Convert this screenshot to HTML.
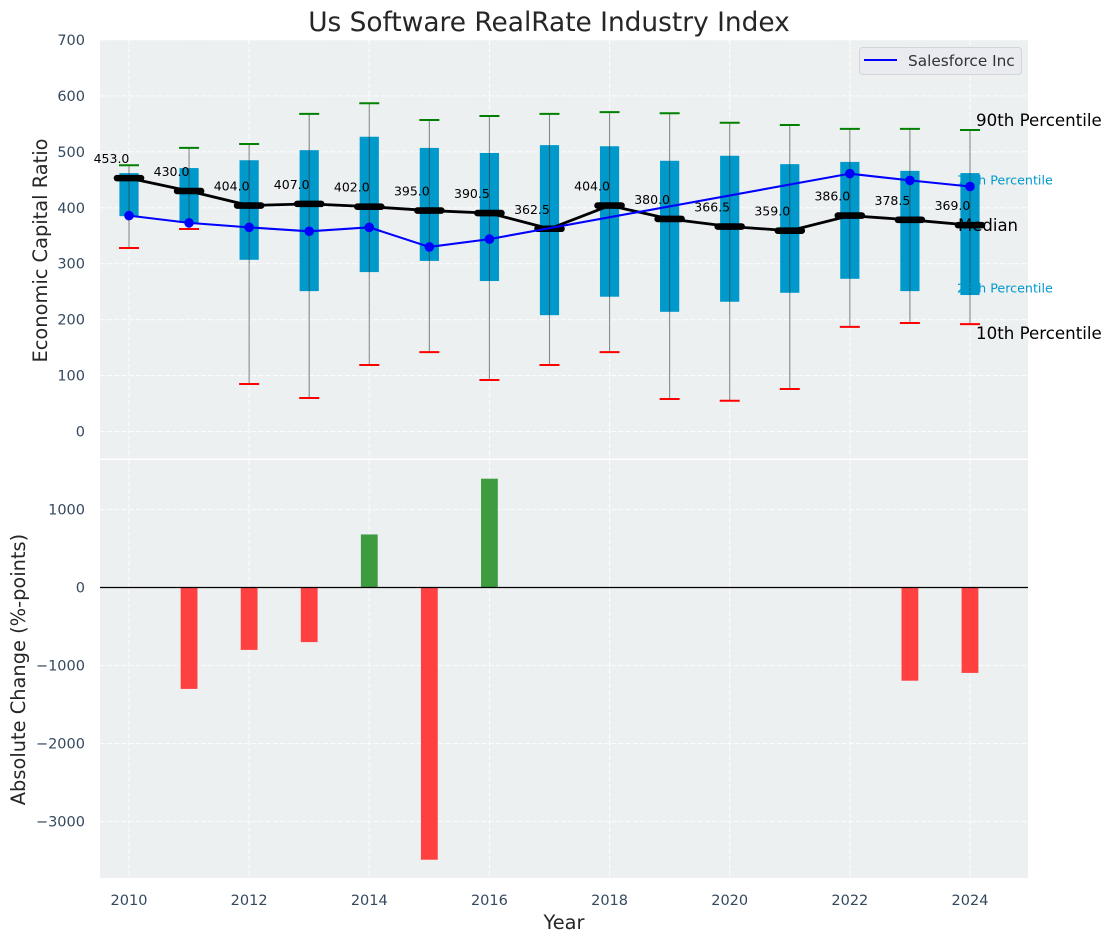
<!DOCTYPE html>
<html lang="en">
<head>
<meta charset="utf-8">
<title>Us Software RealRate Industry Index</title>
<style>
html,body{margin:0;padding:0;background:#fff;}
svg{display:block;font-family:"DejaVu Sans","Liberation Sans",sans-serif;}
</style>
</head>
<body>
<svg id="chart" xmlns="http://www.w3.org/2000/svg" width="1111" height="942" viewBox="0 0 1111 942">
  <rect width="1111" height="942" fill="#ffffff"/>
  <rect x="100" y="40" width="928" height="418.6" fill="#ecf0f1"/>
  <rect x="100" y="460" width="928" height="418" fill="#ecf0f1"/>
  <g id="grid"></g>
  <g id="boxes"></g>
  <g id="whiskers"></g>
  <g id="bars"></g>
  <line x1="100" x2="1028" y1="587.5" y2="587.5" stroke="#000000" stroke-width="1.2"/>
  <g id="ticks" fill="#34495e" font-size="14.5"></g>
  <g id="annotations">
    <text x="976" y="126" font-size="16.67" fill="#000000">90th Percentile</text>
    <text x="957" y="184.5" font-size="12.7" fill="#0099cc">75th Percentile</text>
    <text x="958" y="231" font-size="16.5" fill="#000000">Median</text>
    <text x="957" y="292.5" font-size="12.7" fill="#0099cc">25th Percentile</text>
    <text x="976" y="339" font-size="16.67" fill="#000000">10th Percentile</text>
  </g>
  <g id="median"></g>
  <g id="company"></g>
  <g id="medianLabels" font-size="12.5" fill="#000000"></g>
  <text x="549" y="31" text-anchor="middle" font-size="26.4" fill="#262626">Us Software RealRate Industry Index</text>
  <text transform="translate(47,250.5) rotate(-90)" text-anchor="middle" font-size="19.4" fill="#262626">Economic Capital Ratio</text>
  <text transform="translate(25,669.5) rotate(-90)" text-anchor="middle" font-size="19.4" fill="#262626">Absolute Change (%-points)</text>
  <text x="564" y="929" text-anchor="middle" font-size="19.4" fill="#262626">Year</text>
  <g>
    <rect x="859.5" y="47.5" width="162" height="27" rx="3" fill="#e9ebf1" stroke="#d2d4d8" stroke-width="1"/>
    <line x1="864" x2="897" y1="60" y2="60" stroke="#0000ff" stroke-width="2.08"/>
    <text x="908" y="66" font-size="15.3" fill="#333333">Salesforce Inc</text>
  </g>
</svg>
<script>
var years = [2010,2011,2012,2013,2014,2015,2016,2017,2018,2019,2020,2021,2022,2023,2024];
var p90 = [476,507,514,568,587,557,564,568,571,569,552,548,541,541,539];
var p75 = [462,471,485,503,527,507,498,512,510,484,493,478,482,466,462];
var medianValues = [453,430,404,407,402,395,390.5,362.5,404,380,366.5,359,386,378.5,369];
var p25 = [385,373,307,251,285,305,269,208,241,214,232,248,273,251,244];
var p10 = [328,362,85,60,119,142,92,119,142,58,55,76,187,194,192];
var salesforce = [386,373,365,358,365,330,344,null,null,null,null,null,461,449,438];
var changes = [null,-1300,-800,-700,680,-3490,1395,null,null,null,null,null,null,-1195,-1095];
var xTickValues = [2010,2012,2014,2016,2018,2020,2022,2024];
var topTickValues = [0,100,200,300,400,500,600,700];
var bottomTickValues = [1000,0,-1000,-2000,-3000];

var NS = 'http://www.w3.org/2000/svg';
function xAt(v){ return 129 + (v - 2010) * 60.07; }
function yTop(v){ return 431.5 - v * 0.5593; }
function yBottom(v){ return 587.5 - v * 0.078; }
function make(parentId, tag, attrs){
  var el = document.createElementNS(NS, tag);
  for (var k in attrs) el.setAttribute(k, attrs[k]);
  document.getElementById(parentId).appendChild(el);
  return el;
}
function fmt(v){ return v.toFixed(1); }
function tickText(v){ return v < 0 ? '\u2212' + Math.abs(v) : String(v); }

topTickValues.forEach(function(v){
  var g = make('grid','line',{x1:100,x2:1028,y1:yTop(v),y2:yTop(v),stroke:'#ffffff','stroke-width':1.1,'stroke-dasharray':'5 2.2',opacity:0.85});
  
  
  var t = make('ticks','text',{x:85,y:yTop(v)+5,'text-anchor':'end'});
  t.textContent = tickText(v);
  
  
});
bottomTickValues.forEach(function(v){
  var g = make('grid','line',{x1:100,x2:1028,y1:yBottom(v),y2:yBottom(v),stroke:'#ffffff','stroke-width':1.1,'stroke-dasharray':'5 2.2',opacity:0.85});
  
  
  var t = make('ticks','text',{x:85,y:yBottom(v)+5,'text-anchor':'end'});
  t.textContent = tickText(v);
  
  
});
xTickValues.forEach(function(v){
  var a = make('grid','line',{x1:xAt(v),x2:xAt(v),y1:40,y2:458.6,stroke:'#ffffff','stroke-width':1.1,'stroke-dasharray':'5 2.2',opacity:0.85});
  
  
  var b = make('grid','line',{x1:xAt(v),x2:xAt(v),y1:460,y2:878,stroke:'#ffffff','stroke-width':1.1,'stroke-dasharray':'5 2.2',opacity:0.85});
  
  
  var t = make('ticks','text',{x:xAt(v),y:905,'text-anchor':'middle'});
  t.textContent = String(v);
  
  
});

years.forEach(function(yr, i){
  var x = xAt(yr);
  var box = make('boxes','rect',{x:x-9.6,y:yTop(p75[i]),width:19.2,height:yTop(p25[i])-yTop(p75[i]),fill:'#0099cc'});
  
  
  var w = make('whiskers','line',{x1:x,x2:x,y1:yTop(p90[i]),y2:yTop(p10[i]),stroke:'#333333','stroke-width':1.1,opacity:0.55});
  
  
  var hi = make('whiskers','line',{x1:x-10,x2:x+10,y1:yTop(p90[i]),y2:yTop(p90[i]),stroke:'#008000','stroke-width':2});
  
  
  var lo = make('whiskers','line',{x1:x-10,x2:x+10,y1:yTop(p10[i]),y2:yTop(p10[i]),stroke:'#ff0000','stroke-width':2});
  
  
  if (changes[i] !== null) {
    var y0 = yBottom(Math.max(changes[i], 0));
    var y1 = yBottom(Math.min(changes[i], 0));
    var bar = make('bars','rect',{x:x-8.4,y:y0,width:16.8,height:y1-y0,fill:changes[i] > 0 ? '#3c9c3f' : '#ff4040'});
    
    
  }
});

var medPts = years.map(function(yr, i){ return xAt(yr) + ',' + yTop(medianValues[i]); }).join(' ');
var medLine = make('median','polyline',{points:medPts,fill:'none',stroke:'#000000','stroke-width':2.8});


years.forEach(function(yr, i){
  var x = xAt(yr), y = yTop(medianValues[i]);
  var m = make('median','line',{x1:x-12,x2:x+12,y1:y,y2:y,stroke:'#000000','stroke-width':6.6,'stroke-linecap':'round'});
  
  
  var t = make('medianLabels','text',{x:x-17.5,y:y-15,'text-anchor':'middle'});
  t.textContent = fmt(medianValues[i]);
  
  
});

var sfPts = [];
years.forEach(function(yr, i){
  if (salesforce[i] !== null) sfPts.push(xAt(yr) + ',' + yTop(salesforce[i]));
});
var sfLine = make('company','polyline',{points:sfPts.join(' '),fill:'none',stroke:'#0000ff','stroke-width':2.08});


years.forEach(function(yr, i){
  if (salesforce[i] === null) return;
  var c = make('company','circle',{cx:xAt(yr),cy:yTop(salesforce[i]),r:4.8,fill:'#0000ff'});
  
  
});
</script>
</body>
</html>
